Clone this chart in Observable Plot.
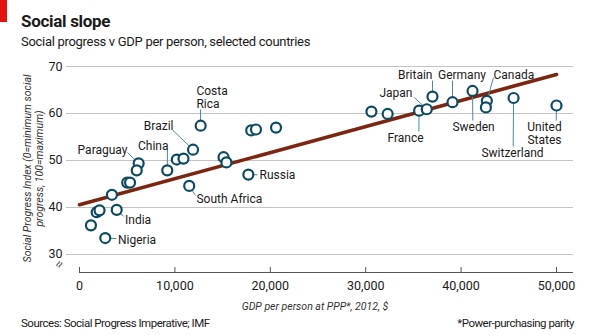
<!DOCTYPE html>
<html>
<head>
<meta charset="utf-8">
<script src="https://cdn.jsdelivr.net/npm/d3@7"></script>
<script src="https://cdn.jsdelivr.net/npm/@observablehq/plot@0.6"></script>
<style>
  html, body { margin: 0; padding: 0; background: #fff; }
  #chart { position: relative; width: 595px; height: 335px; font-family: Roboto, "Noto Sans", sans-serif; color: #1a1a1a; }
  #chart svg { position: absolute; left: 0; top: 0; }
  .tag { position: absolute; left: 0; top: 0; width: 7px; height: 22px; background: #e3120b; }
  .title { position: absolute; left: 21px; top: 13px; font-size: 17px; line-height: 17px; font-weight: 700; letter-spacing: -0.3px; }
  .subtitle { position: absolute; left: 21px; top: 35px; font-size: 13px; line-height: 13px; letter-spacing: -0.3px; }
  .source { position: absolute; left: 21px; top: 317px; font-size: 11.5px; line-height: 12px; letter-spacing: -0.5px; }
  .note { position: absolute; right: 21px; top: 317px; font-size: 11.5px; line-height: 12px; letter-spacing: -0.5px; }
</style>
</head>
<body>
<div id="chart">
  <div class="tag"></div>
  <div class="title">Social slope</div>
  <div class="subtitle">Social progress v GDP per person, selected countries</div>
  <div class="source">Sources: Social Progress Imperative; IMF</div>
  <div class="note">*Power-purchasing parity</div>
</div>
<script>
// Countries: GDP per person at PPP (2012, $) and Social Progress Index
const countries = ["Costa Rica","Brazil","Paraguay","","China","","","","","","India","","","","Nigeria",
  "","","","","","Russia","South Africa","","","France","Japan","Britain","Germany","Sweden","Canada","","Switzerland","United States"];
const gdp = [12700,11900,6200,6000,9200,10200,10900,5000,5300,3400,3900,1800,2100,1200,2700,
  18000,18500,20600,15100,15400,17700,11500,30600,32300,35600,36400,37000,39100,41200,42700,42600,45500,50000];
const spi = [57.4,52.3,49.4,47.9,47.9,50.2,50.4,45.3,45.3,42.7,39.5,39.0,39.4,36.2,33.5,
  56.4,56.6,57.0,50.7,49.6,47.0,44.6,60.4,59.9,60.6,60.9,63.6,62.4,64.8,62.7,61.3,63.3,61.7];

// Fitted trend line end points
const trendX = [0, 50000];
const trendY = [40.6, 68.3];

// Axis ticks
const xTicks = [0, 10000, 20000, 30000, 40000, 50000];
const yTicks = [30, 40, 50, 60, 70];

// Label annotations: text anchor point and end of the leader line
const labelNames  = ["Costa\nRica","Brazil","China","Paraguay","Russia","South Africa","India","Nigeria",
  "Britain","Germany","Canada","Japan","France","Sweden","Switzerland","United\nStates"];
const labelFor    = ["Costa Rica","Brazil","China","Paraguay","Russia","South Africa","India","Nigeria",
  "Britain","Germany","Canada","Japan","France","Sweden","Switzerland","United States"];
const labelX      = [12260,9850,9330,5030,18870,12260,4770,4040,37000,40090,43400,34900,34170,41300,45390,48740];
const labelY      = [63.4,57.45,53.2,52.35,46.96,41.9,37.45,33.2,68.1,68.1,68.1,64.36,54.8,57.1,51.6,55.74];
const labelAnchor = ["start","end","end","end","start","start","start","start","end","middle","start","end","middle","middle","middle","middle"];
const leaderX     = [12680,9750,9220,5030,18660,12160,4610,3880,37000,39100,43400,35110,35570,41230,45460,49970];
const leaderY     = [60.85,56.5,52.34,51.7,46.96,42.55,38.1,33.4,67.0,67.0,67.66,63.4,56.17,58.5,52.98,58.5];

const points = gdp.map((g, i) => ({name: countries[i], gdp: g, spi: spi[i]}));
const byName = new Map(points.filter(d => d.name).map(d => [d.name, d]));
const labels = labelNames.map((t, i) => ({
  text: t, x: labelX[i], y: labelY[i], anchor: labelAnchor[i],
  lx: leaderX[i], ly: leaderY[i], px: byName.get(labelFor[i]).gdp, py: byName.get(labelFor[i]).spi
}));
const trend = trendX.map((x, i) => ({x, y: trendY[i]}));

const W = 595, H = 335;
const mTop = 66, mBottom = 63, mLeft = 79, mRight = 39;
const yMin = 26.17;
const frameH = H - mTop - mBottom;
const ink = "#1a1a1a", teal = "#0c4a60", leaderCol = "#4a8aa0";
const font = "Roboto, 'Noto Sans', sans-serif";

const labelText = anchor => Plot.text(labels.filter(d => d.anchor === anchor), {
  x: "x", y: "y", text: "text", textAnchor: anchor, lineAnchor: "middle",
  lineHeight: 1.05, fill: ink, fontSize: 12, letterSpacing: "-0.2px"
});

const chart = Plot.plot({
  width: W, height: H,
  marginTop: mTop, marginBottom: mBottom, marginLeft: mLeft, marginRight: mRight,
  style: {fontFamily: font, fontSize: "12px", color: ink, background: "transparent", overflow: "visible"},
  x: {domain: [0, 50000], ticks: xTicks, tickFormat: d3.format(",")},
  y: {domain: [yMin, 70], ticks: yTicks},
  marks: [
    Plot.ruleY(yTicks, {stroke: "#c4c4c4", strokeWidth: 1, insetLeft: -13, insetRight: -17}),
    Plot.ruleY([yMin], {stroke: "#555", strokeWidth: 1, insetRight: -17}),
    Plot.ruleX(xTicks, {stroke: "#555", strokeWidth: 1, insetTop: frameH - 5}),
    Plot.axisX({ticks: xTicks, tickFormat: d3.format(","), tickSize: 0, tickPadding: 9, label: null, fontSize: 12.5}),
    Plot.axisY({ticks: yTicks, tickSize: 0, tickPadding: 17, label: null, fontSize: 12.5}),
    Plot.line(trend, {x: "x", y: "y", stroke: "#7c2612", strokeWidth: 3.6}),
    Plot.link(labels, {x1: "px", y1: "py", x2: "lx", y2: "ly", stroke: leaderCol, strokeWidth: 1}),
    Plot.dot(points, {x: "gdp", y: "spi", r: 5, stroke: teal, strokeWidth: 2.2, fill: "white"}),
    labelText("start"),
    labelText("end"),
    labelText("middle"),
    Plot.text(["Social Progress Index (0=minimum social\nprogress, 100=maximum)"], {
      frameAnchor: "left", textAnchor: "middle", rotate: -90, dx: -46, dy: -1,
      lineAnchor: "middle", lineHeight: 1.1, fontStyle: "italic", fontSize: 10.5,
      letterSpacing: "-0.4px", fill: "#333"
    }),
    Plot.text(["GDP per person at PPP*, 2012, $"], {
      frameAnchor: "bottom", dx: -3, dy: 34, lineAnchor: "middle",
      fontStyle: "italic", fontSize: 10.5, letterSpacing: "-0.3px", fill: "#333"
    }),
    Plot.text(["≈"], {frameAnchor: "bottom-left", dx: -22, dy: -5, rotate: -60, fontSize: 13, fill: "#555", lineAnchor: "middle"})
  ]
});
document.getElementById("chart").appendChild(chart);
</script>
</body>
</html>
